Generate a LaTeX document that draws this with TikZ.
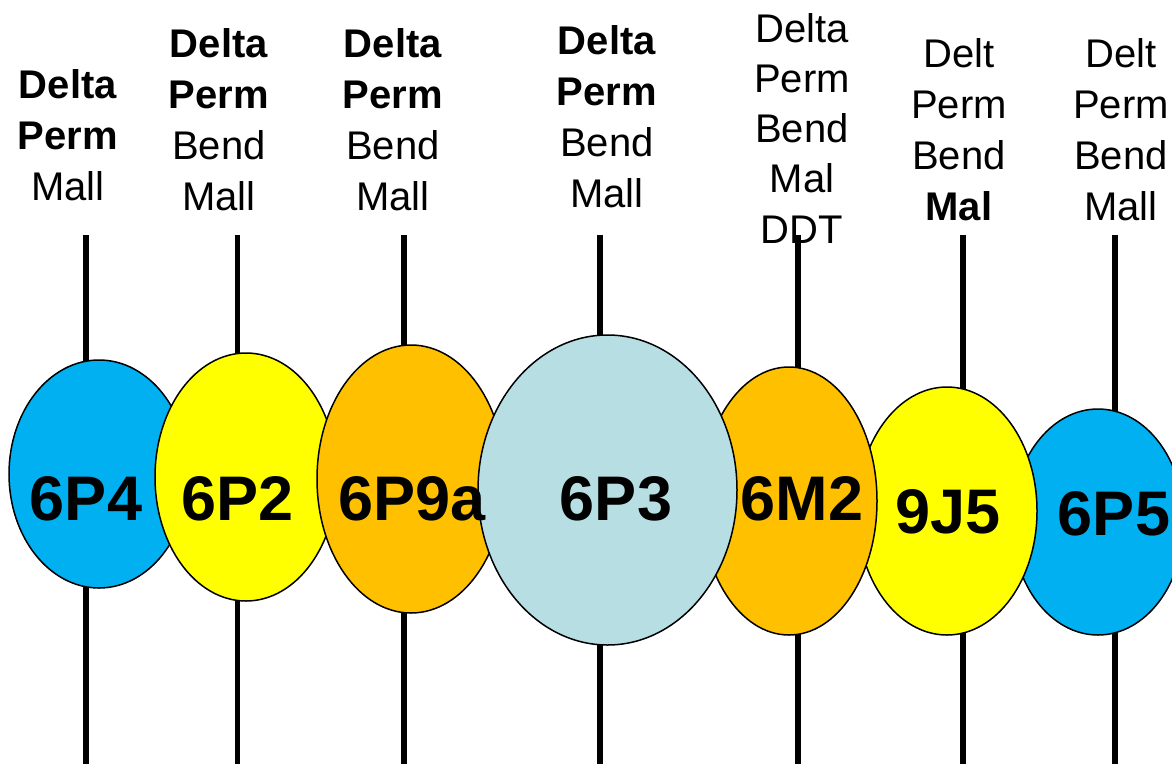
\documentclass[tikz,border=0pt]{standalone}
\usepackage{fontspec}
\setmainfont{Liberation Sans}
\usetikzlibrary{shapes.geometric}
\definecolor{cyanfill}{RGB}{0,176,240}
\definecolor{yellowfill}{RGB}{255,255,0}
\definecolor{amberfill}{RGB}{255,192,0}
\definecolor{paleblue}{RGB}{183,223,227}

\begin{document}
\begin{tikzpicture}[x=1pt,y=-1pt,
  blob/.style={ellipse,draw=black,line width=1.5pt,inner sep=0pt},
  tag/.style={font=\bfseries\fontsize{63}{63}\selectfont,anchor=base,inner sep=0pt},
  note/.style={font=\fontsize{40}{51}\selectfont,align=center,anchor=base,inner sep=0pt},
  stem/.style={line width=5.5pt}]
\useasboundingbox (0,0) rectangle (1172,763);
\clip (0,0) rectangle (1172,763);

% labels above the stems (anchored at the baseline of their last line)
\node[note] (n1) at (68,200)   {\textbf{Delta}\\\textbf{Perm}\\Mall};
\node[note] (n2) at (219,210)  {\textbf{Delta}\\\textbf{Perm}\\Bend\\Mall};
\node[note] (n3) at (393,210)  {\textbf{Delta}\\\textbf{Perm}\\Bend\\Mall};
\node[note] (n4) at (607,207)  {\textbf{Delta}\\\textbf{Perm}\\Bend\\Mall};
\node[note,font=\fontsize{40}{50.25}\selectfont] (n5) at (802,243) {Delta\\Perm\\Bend\\Mal\\DDT};
\node[note] (n6) at (959,220)  {Delt\\Perm\\Bend\\\textbf{Mal}};
\node[note] (n7) at (1121,220) {Delt\\Perm\\Bend\\Mall};

% stem end points
\foreach \i/\x in {1/86,2/237.5,3/404,4/600,5/798,6/963,7/1115}{
  \coordinate (t\i) at (\x,235);
  \coordinate (b\i) at (\x,770);
}
\foreach \i in {1,...,7}{ \draw[stem] (t\i) -- (b\i); }

% the beads, back to front
\node[blob,fill=cyanfill,  minimum width=180pt,minimum height=228pt] (e1) at (99,474)    {};
\node[blob,fill=yellowfill,minimum width=182pt,minimum height=248pt] (e2) at (246,477)   {};
\node[blob,fill=amberfill, minimum width=188pt,minimum height=268pt] (e3) at (411,479)   {};
\node[blob,fill=cyanfill,  minimum width=172pt,minimum height=226pt] (e7) at (1098,522)  {};
\node[blob,fill=yellowfill,minimum width=180pt,minimum height=248pt] (e6) at (947,511)   {};
\node[blob,fill=amberfill, minimum width=176pt,minimum height=268pt] (e5) at (789,501)   {};
\node[blob,fill=paleblue,  minimum width=259pt,minimum height=310pt] (e4) at (607.5,490) {};

% bead names
\node[tag] (l1) at (86,520)   {6P4};
\node[tag] (l2) at (237.5,520){6P2};
\node[tag] (l3) at (412,520)  {6P9a};
\node[tag] (l4) at (616,520)  {6P3};
\node[tag] (l5) at (802,520)  {6M2};
\node[tag] (l6) at (948,533)  {9J5};
\node[tag] (l7) at (1114,535) {6P5};
\end{tikzpicture}
\end{document}
